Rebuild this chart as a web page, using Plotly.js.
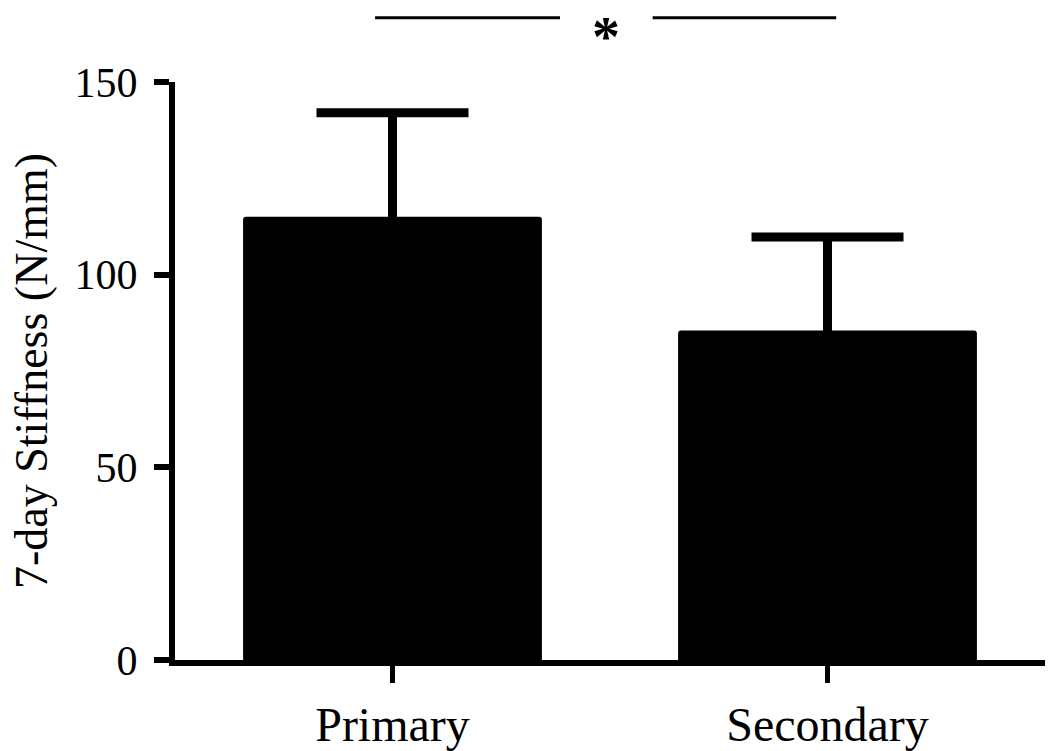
<!DOCTYPE html>
<html>
<head>
<meta charset="utf-8">
<script src="https://cdn.plot.ly/plotly-3.0.1.min.js"></script>
<style>
  html, body { margin: 0; padding: 0; background: #fff; }
  #chart { width: 1050px; height: 751px; }
</style>
</head>
<body>
<div id="chart"></div>
<script>
// ==================== DATA ====================
const groups = ['Primary', 'Secondary'];
const stiffness = [115, 85.5];      // mean, N/mm
const stiffnessErr = [27, 24.3];     // error (SD), only the upper half shows above the bar
const yTicks = [0, 50, 100, 150];
const sigLabel = '*';

// ==================== PLOT ====================
const serif = 'Liberation Serif, Times New Roman, serif';

const data = [{
  type: 'bar',
  x: groups,
  y: stiffness,
  width: 0.687,
  marker: { color: '#000', cornerradius: 3, line: { width: 0 } },
  error_y: {
    type: 'data',
    symmetric: true,          // lower half is hidden inside the black bar
    array: stiffnessErr,
    color: '#000',
    thickness: 9,
    width: 76
  },
  cliponaxis: false,
  hoverinfo: 'skip'
}];

// significance bracket: two line segments with a star in between
const sigY = 1.111;
const shapes = [
  { type: 'line', xref: 'x', yref: 'paper', x0: -0.04, x1: 0.385, y0: sigY, y1: sigY,
    line: { color: '#000', width: 3 } },
  { type: 'line', xref: 'x', yref: 'paper', x0: 0.598, x1: 1.02, y0: sigY, y1: sigY,
    line: { color: '#000', width: 3 } }
];

const annotations = [{
  text: '<b>' + sigLabel + '</b>',
  xref: 'x', yref: 'paper',
  x: 0.49, y: 1.135,
  yanchor: 'top',
  showarrow: false,
  font: { family: serif, size: 56, color: '#000' }
}];

const layout = {
  width: 1050,
  height: 751,
  margin: { l: 175, r: 5, t: 82, b: 91 },
  paper_bgcolor: '#fff',
  plot_bgcolor: '#fff',
  showlegend: false,
  font: { family: serif, color: '#000' },
  xaxis: {
    type: 'category',
    range: [-0.5, 1.5],
    showline: true,
    linecolor: '#000',
    linewidth: 6,
    ticks: 'outside',
    ticklen: 17,
    tickwidth: 5,
    tickcolor: '#000',
    tickfont: { family: serif, size: 48, color: '#000' },
    showgrid: false,
    zeroline: false,
    fixedrange: true
  },
  yaxis: {
    range: [0, 150],
    tickvals: yTicks,
    showline: true,
    linecolor: '#000',
    linewidth: 6,
    ticks: 'outside',
    ticklen: 15,
    tickwidth: 6,
    tickcolor: '#000',
    tickfont: { family: serif, size: 42, color: '#000' },
    ticklabelstandoff: 8,
    showgrid: false,
    zeroline: false,
    title: { text: '7-day Stiffness (N/mm)', font: { family: serif, size: 46, color: '#000' }, standoff: 14 },
    fixedrange: true
  },
  shapes: shapes,
  annotations: annotations
};

Plotly.newPlot('chart', data, layout, { displayModeBar: false, staticPlot: true });
</script>
</body>
</html>
